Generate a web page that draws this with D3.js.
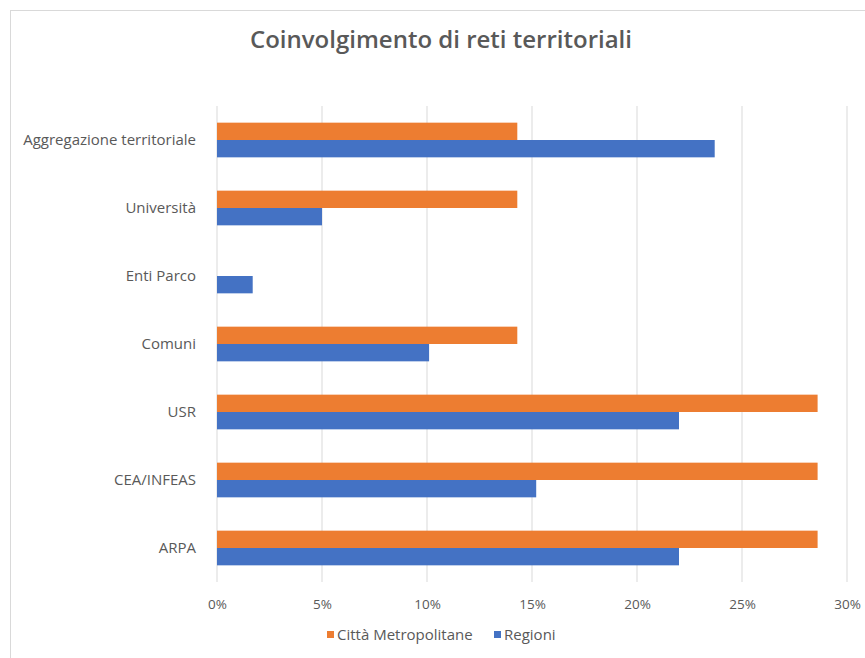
<!DOCTYPE html>
<html>
<head>
<meta charset="utf-8">
<script src="https://cdn.jsdelivr.net/npm/d3@7"></script>
<style>
  html, body { margin: 0; padding: 0; background: #fff; }
  svg { display: block; font-family: "Open Sans", "Noto Sans", sans-serif; }
</style>
</head>
<body>
<svg id="chart" width="865" height="658"></svg>
<script>
const title = "Coinvolgimento di reti territoriali";
const categories = ["Aggregazione territoriale", "Università", "Enti Parco", "Comuni", "USR", "CEA/INFEAS", "ARPA"];
const seriesNames = ["Città Metropolitane", "Regioni"];
const cittaMetropolitane = [14.3, 14.3, 0, 14.3, 28.6, 28.6, 28.6];
const regioni = [23.7, 5.0, 1.7, 10.1, 22.0, 15.2, 22.0];
const tickValues = [0, 5, 10, 15, 20, 25, 30];
const colors = ["#ED7D31", "#4472C4"];

const svg = d3.select("#chart");
const W = 865, H = 658;

// chart border
svg.append("rect").attr("x", 10.5).attr("y", 10.5).attr("width", 870).attr("height", 670)
  .attr("fill", "#fff").attr("stroke", "#d9d9d9").attr("stroke-width", 1);

const margin = { left: 217, right: 18, top: 106, bottom: 76 };
const x = d3.scaleLinear().domain([0, 30]).range([margin.left, W - margin.right]);
const y = d3.scaleBand().domain(categories).range([margin.top, H - margin.bottom]).paddingInner(0.49).paddingOuter(0.245);
const sub = d3.scaleBand().domain(seriesNames).range([0, y.bandwidth()]);

// grid
svg.append("g").selectAll("line").data(tickValues).join("line")
  .attr("x1", d => x(d)).attr("x2", d => x(d))
  .attr("y1", margin.top).attr("y2", H - margin.bottom)
  .attr("stroke", "#d9d9d9").attr("stroke-width", 1);

// bars
const series = [cittaMetropolitane, regioni];
series.forEach((vals, si) => {
  svg.append("g").selectAll("rect").data(categories).join("rect")
    .attr("x", x(0))
    .attr("y", d => y(d) + sub(seriesNames[si]))
    .attr("width", (d, i) => x(vals[i]) - x(0))
    .attr("height", sub.bandwidth())
    .attr("fill", colors[si]);
});

// x axis
const xAxis = d3.axisBottom(x).tickValues(tickValues).tickFormat(d => d + "%").tickSize(0).tickPadding(11);
const gx = svg.append("g").attr("transform", `translate(0,${H - margin.bottom + 6})`).call(xAxis);
gx.select(".domain").remove();
gx.selectAll("text").attr("fill", "#595959").style("font-size", "13.5px").style("font-family", "'Open Sans', sans-serif");

// y axis labels
const yAxis = d3.axisLeft(y).tickSize(0).tickPadding(21);
const gy = svg.append("g").attr("transform", `translate(${margin.left},0)`).call(yAxis);
gy.select(".domain").remove();
gy.selectAll("text").attr("fill", "#595959").style("font-size", "15px").style("font-family", "'Open Sans', sans-serif");

// title
svg.append("text").attr("x", 441).attr("y", 48).attr("text-anchor", "middle")
  .attr("fill", "#595959").style("font-size", "24px").style("font-weight", "600").text(title);

// legend
const legend = svg.append("g").attr("transform", "translate(0,635)");
const legX = [327, 494];
seriesNames.forEach((n, i) => {
  legend.append("rect").attr("x", legX[i]).attr("y", -4).attr("width", 7).attr("height", 7).attr("fill", colors[i]);
  legend.append("text").attr("x", legX[i] + 10).attr("y", 0).attr("dy", "0.35em")
    .attr("fill", "#595959").style("font-size", "15px").text(n);
});
</script>
</body>
</html>
